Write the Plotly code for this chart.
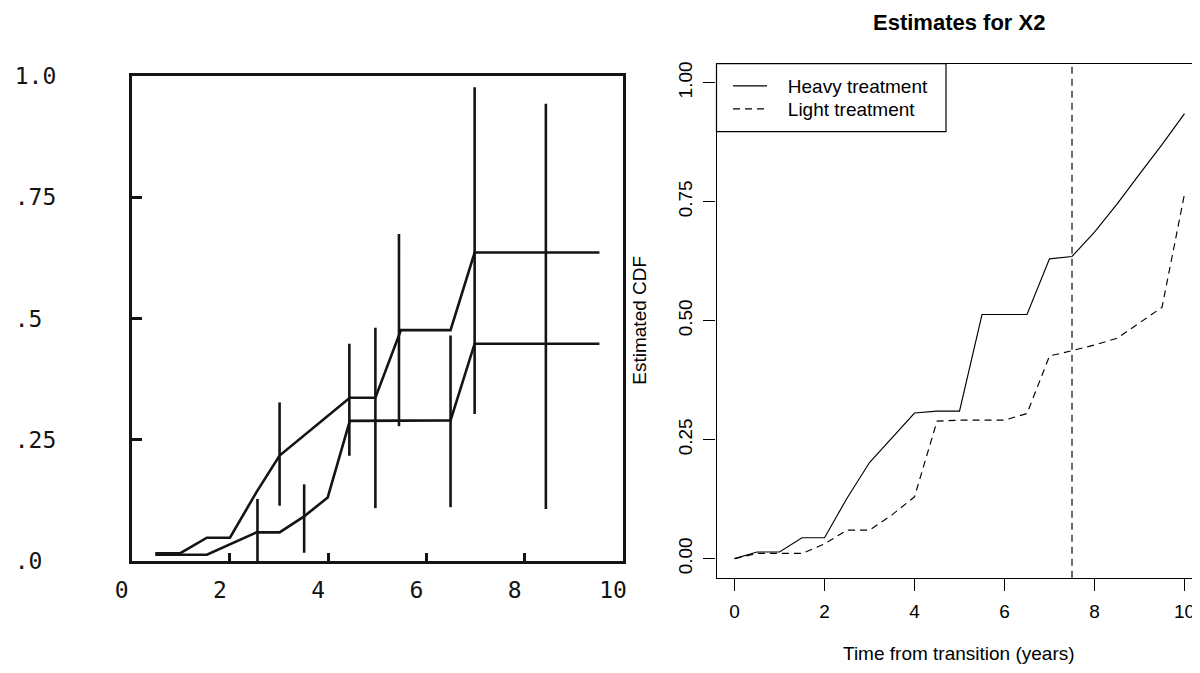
import plotly.graph_objects as go

WIN_W, WIN_H = 1200, 673
OFF = 8  # the page places the figure 8 px right and 8 px down
W, H = WIN_W - OFF, WIN_H - 2 * OFF  # keep the page from overflowing the window

# ---------------- Left panel (scanned figure) ----------------
left_a_x = [0.48, 0.99, 1.53, 2.0, 2.54, 3.01, 4.44, 4.96, 5.48, 6.49, 6.98, 9.52]
left_a_y = [0.016, 0.016, 0.048, 0.048, 0.142, 0.2175, 0.3365, 0.3365, 0.476, 0.476, 0.636, 0.636]
left_b_x = [0.48, 1.53, 2.54, 3.01, 3.51, 3.99, 4.44, 6.49, 6.98, 9.52]
left_b_y = [0.013, 0.013, 0.059, 0.059, 0.092, 0.131, 0.289, 0.29, 0.448, 0.448]

bar_x = [2.56, 3.01, 3.51, 4.43, 4.96, 5.44, 6.49, 6.98, 8.43]
bar_est = [0.059, 0.2175, 0.092, 0.336, 0.29, 0.476, 0.29, 0.636, 0.448]
bar_lo = [0.0, 0.114, 0.017, 0.217, 0.109, 0.278, 0.111, 0.303, 0.107]
bar_hi = [0.128, 0.327, 0.158, 0.448, 0.481, 0.674, 0.465, 0.977, 0.943]

left_xticks = [0, 2, 4, 6, 8, 10]
left_yticks = [0, 0.25, 0.5, 0.75, 1.0]
left_yticktext = [".0\u00a0", ".25", ".5\u00a0", ".75", "1.0"]

# ---------------- Right panel (R plot) ----------------
time = [0, 0.5, 1, 1.5, 2, 2.5, 3, 3.5, 4, 4.5, 5, 5.5, 6, 6.5, 7, 7.5, 8, 8.5, 9, 9.5, 10]
heavy = [0, 0.014, 0.014, 0.044, 0.044, 0.127, 0.202, 0.255, 0.306, 0.31, 0.31, 0.513,
         0.513, 0.513, 0.63, 0.635, 0.686, 0.745, 0.808, 0.87, 0.935]
light = [0, 0.011, 0.011, 0.011, 0.031, 0.06, 0.06, 0.092, 0.13, 0.289, 0.291, 0.291,
         0.291, 0.305, 0.426, 0.437, 0.449, 0.463, 0.495, 0.528, 0.766]
cutoff_x = 7.5
right_xticks = [0, 2, 4, 6, 8, 10]
right_yticks = [0, 0.25, 0.5, 0.75, 1.0]
right_yticktext = ["0.00", "0.25", "0.50", "0.75", "1.00"]
series_names = ["Heavy treatment", "Light treatment"]

INK = "#141414"
MONO = "DejaVu Sans Mono"
SANS = "Liberation Sans, Arial, sans-serif"
DASH = "7px,5px"
PAD = "\u00a0\u00a0\u00a0"


def px(x):
    return min(1.0, (x - OFF) / W)


def py(y):
    return 1 - (y - OFF) / H


fig = go.Figure()

# left panel traces
fig.add_trace(go.Scatter(x=left_a_x, y=left_a_y, mode="lines", xaxis="x", yaxis="y",
                         line=dict(color=INK, width=2.6), showlegend=False, hoverinfo="skip"))
fig.add_trace(go.Scatter(x=left_b_x, y=left_b_y, mode="lines", xaxis="x", yaxis="y",
                         line=dict(color=INK, width=2.6), showlegend=False, hoverinfo="skip"))
fig.add_trace(go.Scatter(
    x=bar_x, y=bar_est, mode="markers", xaxis="x", yaxis="y",
    marker=dict(size=1, color="rgba(0,0,0,0)"),
    error_y=dict(type="data", symmetric=False,
                 array=[h - e for h, e in zip(bar_hi, bar_est)],
                 arrayminus=[e - l for e, l in zip(bar_est, bar_lo)],
                 width=0, thickness=2.6, color=INK),
    showlegend=False, hoverinfo="skip"))

# right panel traces
fig.add_trace(go.Scatter(x=time, y=heavy, mode="lines", xaxis="x2", yaxis="y2",
                         name=PAD + series_names[0], legend="legend",
                         line=dict(color="black", width=1.15)))
fig.add_trace(go.Scatter(x=time, y=light, mode="lines", xaxis="x2", yaxis="y2",
                         name=PAD + series_names[1], legend="legend2",
                         line=dict(color="black", width=1.15, dash=DASH)))

# geometry (pixels, in window coordinates)
L_left, L_right, L_top, L_bot = 131.7, 623.0, 76.0, 561.0
R_left, R_right, R_top, R_bot = 716.5, OFF + W, 63.7, 577.7
# x range so that 0 and 10 fall at 734.3 and 1184.3 px
r_x0 = -0.4
r_x1 = r_x0 + (R_right - R_left) / 45.0

legend_common = dict(xanchor="left", yanchor="middle", bgcolor="rgba(0,0,0,0)",
                     borderwidth=0, font=dict(family=SANS, size=19, color="black"),
                     itemwidth=34)

fig.update_layout(
    template="none",
    width=W, height=H,
    margin=dict(l=0, r=0, t=0, b=0, pad=0),
    paper_bgcolor="white", plot_bgcolor="white",
    showlegend=True,
    xaxis=dict(domain=[px(L_left), px(L_right)], range=[0, 10], anchor="y", automargin=False,
               tickvals=left_xticks, ticks="inside", ticklen=8, tickwidth=2.5, tickcolor=INK,
               showline=True, linewidth=2.6, linecolor=INK, mirror=True,
               showgrid=False, zeroline=False,
               tickfont=dict(family=MONO, size=23, color=INK),
               ticklabelshift=-10, ticklabelstandoff=7),
    yaxis=dict(domain=[py(L_bot), py(L_top)], range=[0, 1], anchor="x", automargin=False,
               tickvals=left_yticks, ticktext=left_yticktext,
               ticks="inside", ticklen=10, tickwidth=2.5, tickcolor=INK,
               showline=True, linewidth=2.6, linecolor=INK, mirror=True,
               showgrid=False, zeroline=False,
               tickfont=dict(family=MONO, size=23, color=INK),
               ticklabelstandoff=68),
    xaxis2=dict(domain=[px(R_left), px(R_right)], range=[r_x0, r_x1], anchor="y2",
                automargin=False, ticklabeloverflow="allow",
                tickvals=right_xticks, ticks="outside", ticklen=12, tickwidth=1, tickcolor="black",
                showline=True, linewidth=1.2, linecolor="black", mirror=True,
                showgrid=False, zeroline=False,
                tickfont=dict(family=SANS, size=19, color="black"),
                ticklabelstandoff=4),
    yaxis2=dict(domain=[py(R_bot), py(R_top)], range=[-0.04, 1.04], anchor="x2",
                automargin=False,
                tickvals=right_yticks, ticktext=right_yticktext, tickangle=-90,
                ticks="outside", ticklen=12, tickwidth=1, tickcolor="black",
                showline=True, linewidth=1.2, linecolor="black", mirror=False,
                showgrid=False, zeroline=False,
                tickfont=dict(family=SANS, size=19, color="black"),
                ticklabelstandoff=4),
    legend=dict(x=px(728), y=py(86), **legend_common),
    legend2=dict(x=px(728), y=py(109), **legend_common),
)

# legend frame
fig.add_shape(type="rect", xref="x2 domain", yref="y2 domain",
              x0=0, x1=(946 - R_left) / (R_right - R_left),
              y0=(R_bot - 131.7) / (R_bot - R_top), y1=1,
              line=dict(color="black", width=1.2), fillcolor="rgba(0,0,0,0)")

# vertical reference line
fig.add_shape(type="line", xref="x2", yref="y2 domain",
              x0=cutoff_x, x1=cutoff_x, y0=0, y1=1,
              line=dict(color="black", width=1.15, dash=DASH))

# titles
fig.add_annotation(text="<b>Estimates for X2</b>", xref="paper", yref="paper",
                   x=px(959.3), y=py(22), xanchor="center", yanchor="middle",
                   showarrow=False, font=dict(family=SANS, size=22, color="black"))
fig.add_annotation(text="Time from transition (years)", xref="paper", yref="paper",
                   x=px(959.3), y=py(653), xanchor="center", yanchor="middle",
                   showarrow=False, font=dict(family=SANS, size=19, color="black"))
fig.add_annotation(text="Estimated CDF", xref="paper", yref="paper",
                   x=px(640), y=py(320.7), xanchor="center", yanchor="middle",
                   textangle=-90, showarrow=False,
                   font=dict(family=SANS, size=19, color="black"))

fig.write_html("out.html")
